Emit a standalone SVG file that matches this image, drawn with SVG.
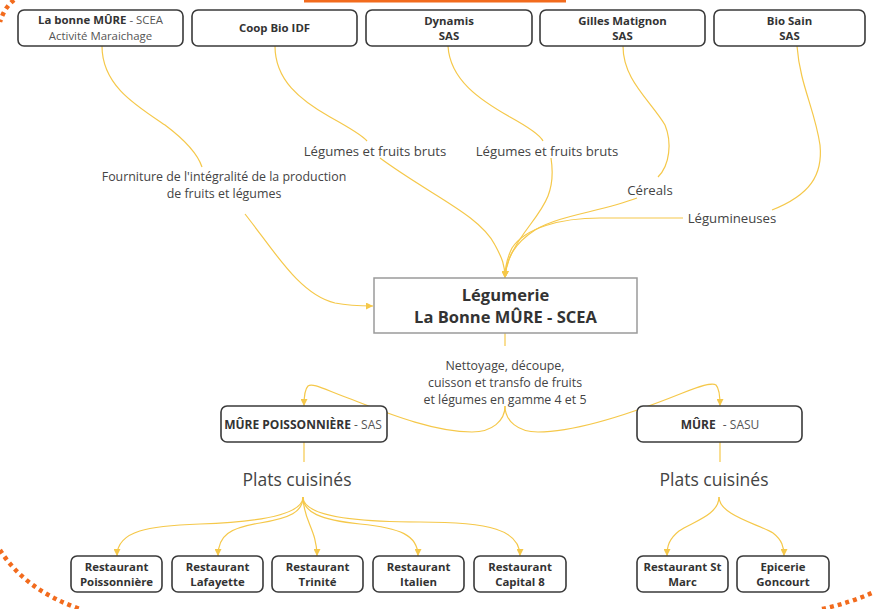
<svg xmlns="http://www.w3.org/2000/svg" width="874" height="609" viewBox="0 0 874 609">
<style>
text{font-family:"Open Sans","Liberation Sans",sans-serif;fill:#333;}
.nb{font-size:11.4px;font-weight:700;text-anchor:middle;}
.nn{font-weight:400;fill:#555;}
.box{fill:#fff;stroke:#3a3a3a;stroke-width:1.6;}
.main{fill:#fff;stroke:#9a9a9a;stroke-width:1.5;}
.lbl{font-size:13.2px;text-anchor:middle;fill:#444;}
.lbm{font-size:12.4px;text-anchor:middle;fill:#444;}
.big{font-size:17.5px;text-anchor:middle;fill:#444;}
.ttl{font-size:16.5px;font-weight:700;text-anchor:middle;fill:#333;}
.e{fill:none;stroke:#F5C84A;stroke-width:1.2;}
.ea{fill:none;stroke:#F5C84A;stroke-width:1.2;marker-end:url(#ah);}
.dots{fill:none;stroke:#F26B1D;stroke-width:4.5;stroke-dasharray:4 4;}
</style>
<defs>
<marker id="ah" viewBox="0 0 8 8" refX="8" refY="4" markerWidth="7" markerHeight="7" markerUnits="userSpaceOnUse" orient="auto">
<path d="M0,0 L8,4 L0,8 z" fill="#F5C84A"/>
</marker>
</defs>
<rect width="874" height="609" fill="#fff"/>
<!-- decorative orange -->
<rect x="304" y="0" width="262" height="2.5" fill="#F26B1D"/>
<path class="dots" d="M14 0 Q4 8 0 22"/>
<path class="dots" d="M0 550 Q25 590 80 609"/>
<path class="dots" d="M822 609 Q850 603 874 592"/>

<g id="connectors">
<path class="e" d="M102 46 C102 85 135 105 165 125 C185 140 198 155 202 167"/>
<path class="ea" d="M245 214 C275 252 300 295 335 303 C350 306 360 306 373 306"/>
<path class="e" d="M275 46 C275 80 300 100 330 117 C350 128 362 135 367 141"/>
<path class="ea" d="M380 158 C430 195 480 215 495 245 C502 258 505 265 505 278"/>
<path class="e" d="M448 46 C450 80 480 100 510 117 C530 128 540 135 543 141"/>
<path class="ea" d="M551 158 C556 190 545 205 530 225 C515 245 506 260 505 278"/>
<path class="e" d="M623 46 C623 80 650 100 665 125 C672 142 670 165 658 177"/>
<path class="ea" d="M637 198 C600 212 560 215 535 230 C515 243 506 258 505 278"/>
<path class="e" d="M797 46 C800 85 815 110 820 145 C823 175 810 195 772 210"/>
<path class="ea" d="M683 218 L600 218 C560 218 525 228 512 248 C507 258 505 266 505 278"/>
<path class="e" d="M505 333 L505 346"/>
<path class="ea" d="M505 406 C505 421 492 432 472 432 C430 432 380 410 340 395 C322 388 312 383 308 386 C305 389 304 395 304 406"/>
<path class="ea" d="M505 406 C505 421 518 432 538 432 C580 432 640 410 680 394 C700 386 712 382 716 385 C719 388 720 395 720 406"/>
<path class="e" d="M304 442 L304 462"/>
<path class="e" d="M720 442 L720 462"/>
<path class="ea" d="M303 497 C303 515 260 522 200 524 C150 526 117 530 117 556"/>
<path class="ea" d="M303 497 C303 512 290 518 260 523 C230 528 218 535 218 556"/>
<path class="ea" d="M303 497 C303 520 317 530 317 556"/>
<path class="ea" d="M303 497 C303 512 320 520 360 524 C400 528 418 535 418 556"/>
<path class="ea" d="M303 497 C303 515 350 522 420 522 C490 522 520 530 520 556"/>
<path class="ea" d="M719 497 C719 515 692 522 679 531 C669 539 667 546 667 556"/>
<path class="ea" d="M719 497 C719 515 758 524 773 533 C782 540 784 547 784 556"/>
</g>

<g id="labels">
<text class="lbm" x="224" y="181">Fourniture de l'intégralité de la production<tspan x="224" dy="17">de fruits et légumes</tspan></text>
<text class="lbl" x="375" y="155.5">Légumes et fruits bruts</text>
<text class="lbl" x="547" y="155.5">Légumes et fruits bruts</text>
<text class="lbl" x="650" y="194.5">Céreals</text>
<text class="lbl" x="732" y="222.5">Légumineuses</text>
<text class="lbm" x="505" y="369.5">Nettoyage, découpe,<tspan x="505" dy="17">cuisson et transfo de fruits</tspan><tspan x="505" dy="17">et légumes  en gamme 4 et 5</tspan></text>
<text class="big" x="297" y="486">Plats cuisinés</text>
<text class="big" x="714" y="486">Plats cuisinés</text>
</g>

<g id="n-labonnemure">
<rect class="box" x="18" y="10" width="165" height="36" rx="6"/>
<text class="nb" x="100.5" y="24">La bonne MÛRE<tspan class="nn"> - SCEA</tspan><tspan class="nn" x="100.5" dy="15.6">Activité Maraichage</tspan></text>
</g>
<g id="n-coopbio">
<rect class="box" x="192" y="10" width="165" height="36" rx="6"/>
<text class="nb" x="274.5" y="32">Coop Bio IDF</text>
</g>
<g id="n-dynamis">
<rect class="box" x="366" y="10" width="166" height="36" rx="6"/>
<text class="nb" x="449" y="24.5">Dynamis<tspan x="449" dy="15.6">SAS</tspan></text>
</g>
<g id="n-gilles">
<rect class="box" x="540" y="10" width="165" height="36" rx="6"/>
<text class="nb" x="622.5" y="24.5">Gilles Matignon<tspan x="622.5" dy="15.6">SAS</tspan></text>
</g>
<g id="n-biosain">
<rect class="box" x="714" y="10" width="151" height="36" rx="6"/>
<text class="nb" x="789.5" y="24.5">Bio Sain<tspan x="789.5" dy="15.6">SAS</tspan></text>
</g>

<g id="n-legumerie">
<rect class="main" x="374" y="278" width="263" height="55"/>
<text class="ttl" x="505.5" y="300.5">Légumerie<tspan x="505.5" dy="22.6">La Bonne MÛRE - SCEA</tspan></text>
</g>

<g id="n-murepoissonniere">
<rect class="box" x="221" y="406" width="166" height="36" rx="6"/>
<text class="nb" x="303" y="428.5" style="font-size:12px">MÛRE POISSONNIÈRE<tspan class="nn"> - SAS</tspan></text>
</g>
<g id="n-mure">
<rect class="box" x="637" y="406" width="165" height="36" rx="6"/>
<text class="nb" x="720" y="428.5" style="font-size:12px">MÛRE<tspan class="nn" dx="4"> - SASU</tspan></text>
</g>

<g id="n-r-poissonniere">
<rect class="box" x="71" y="556" width="91" height="36" rx="6"/>
<text class="nb" x="116.5" y="570.5">Restaurant<tspan x="116.5" dy="15.6">Poissonnière</tspan></text>
</g>
<g id="n-r-lafayette">
<rect class="box" x="172" y="556" width="91" height="36" rx="6"/>
<text class="nb" x="217.5" y="570.5">Restaurant<tspan x="217.5" dy="15.6">Lafayette</tspan></text>
</g>
<g id="n-r-trinite">
<rect class="box" x="272" y="556" width="91" height="36" rx="6"/>
<text class="nb" x="317.5" y="570.5">Restaurant<tspan x="317.5" dy="15.6">Trinité</tspan></text>
</g>
<g id="n-r-italien">
<rect class="box" x="373" y="556" width="91" height="36" rx="6"/>
<text class="nb" x="418.5" y="570.5">Restaurant<tspan x="418.5" dy="15.6">Italien</tspan></text>
</g>
<g id="n-r-capital8">
<rect class="box" x="474" y="556" width="92" height="36" rx="6"/>
<text class="nb" x="520" y="570.5">Restaurant<tspan x="520" dy="15.6">Capital 8</tspan></text>
</g>
<g id="n-r-stmarc">
<rect class="box" x="637" y="556" width="91" height="36" rx="6"/>
<text class="nb" x="682.5" y="570.5">Restaurant St<tspan x="682.5" dy="15.6">Marc</tspan></text>
</g>
<g id="n-epicerie">
<rect class="box" x="737" y="556" width="92" height="36" rx="6"/>
<text class="nb" x="783" y="570.5">Epicerie<tspan x="783" dy="15.6">Goncourt</tspan></text>
</g>
</svg>
